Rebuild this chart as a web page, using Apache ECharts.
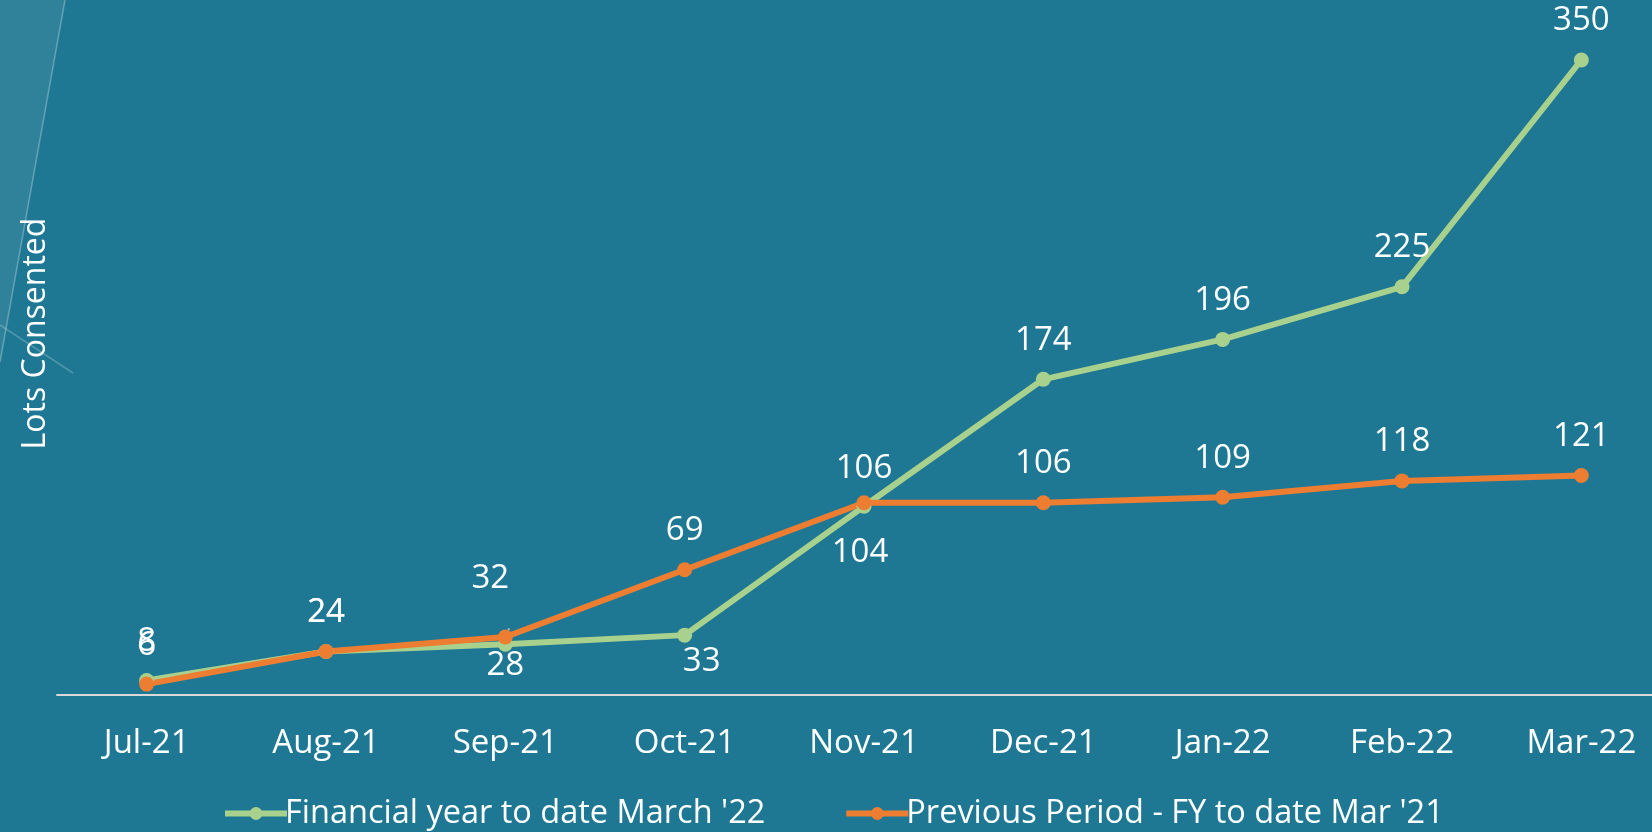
<!DOCTYPE html>
<html>
<head>
<meta charset="utf-8">
<script src="https://cdn.jsdelivr.net/npm/echarts@6/dist/echarts.min.js"></script>
<style>
  html, body { margin: 0; padding: 0; background: #1F7893; }
  #chart { width: 1652px; height: 832px; }
</style>
</head>
<body>
<div id="chart"></div>
<script>
// categories and values
var months = ["Jul-21", "Aug-21", "Sep-21", "Oct-21", "Nov-21", "Dec-21", "Jan-22", "Feb-22", "Mar-22"];
var fyCurrent = [8, 24, 28, 33, 104, 174, 196, 225, 350];
var fyPrevious = [6, 24, 32, 69, 106, 106, 109, 118, 121];
var seriesNames = ["Financial year to date March '22", "Previous Period - FY to date Mar '21"];

var font = "'Open Sans', sans-serif";
var guide = { show: true, lineStyle: { color: "#B4B4B4", width: 2 } };

// label placement tweaks per point (index -> label override)
var greenLabels = {
    2: { position: "bottom", distance: -3 },
    3: { position: "bottom", distance: 2, offset: [17, 0] },
    4: { position: "bottom", distance: 22, offset: [-4, 0] }
};
var orangeLabels = {
    2: { position: "top", distance: 34, offset: [-15, 0], guide: true },
    4: { position: "top", distance: 10 }
};

var buildData = function (values, tweaks) {
    return values.map(function (v, i) {
        var t = tweaks[i];
        if (!t) return v;
        var item = { value: v, label: { position: t.position, distance: t.distance } };
        if (t.offset) item.label.offset = t.offset;
        if (t.guide) item.labelLine = guide;
        return item;
    });
};

var mkSeries = function (name, color, values, tweaks) {
    return {
        name: name,
        type: "line",
        data: buildData(values, tweaks),
        symbol: "circle",
        symbolSize: 15,
        lineStyle: { color: color, width: 6 },
        itemStyle: { color: color },
        label: {
            show: true,
            position: "top",
            distance: 15,
            color: "#FFFFFF",
            fontFamily: font,
            fontSize: 33
        },
        labelLine: { show: false },
        emphasis: { disabled: true },
        animation: false
    };
};

var myChart = echarts.init(document.getElementById("chart"), null, { renderer: "canvas" });

myChart.setOption({
    backgroundColor: "#1F7893",
    graphic: [
        { type: "polygon", shape: { points: [[0, 0], [65, 0], [0, 362]] }, style: { fill: "rgba(255,255,255,0.08)" }, silent: true },
        { type: "line", shape: { x1: 65, y1: 0, x2: 0, y2: 362 }, style: { stroke: "rgba(255,255,255,0.28)", lineWidth: 1.5 }, silent: true },
        { type: "line", shape: { x1: 0, y1: 325, x2: 73, y2: 373 }, style: { stroke: "rgba(255,255,255,0.22)", lineWidth: 1.5 }, silent: true }
    ],
    legend: {
        left: 217,
        top: 792,
        itemWidth: 62,
        itemHeight: 16,
        itemGap: 78,
        itemStyle: { borderWidth: 0 },
        lineStyle: { width: 6 },
        textStyle: { color: "#FFFFFF", fontFamily: font, fontSize: 32.5, padding: [0, 0, 0, -7] },
        data: seriesNames
    },
    grid: { left: 57, top: 60, width: 1614, height: 635, outerBoundsMode: "none", containLabel: false },
    xAxis: {
        type: "category",
        data: months,
        axisLine: { lineStyle: { color: "#D9D9D9", width: 2 } },
        axisTick: { show: false },
        axisLabel: { color: "#FFFFFF", fontFamily: font, fontSize: 33, margin: 32 }
    },
    yAxis: {
        type: "value",
        min: 0,
        max: 350,
        name: "Lots Consented",
        nameLocation: "middle",
        nameRotate: 90,
        nameGap: 5,
        nameTextStyle: { color: "#FFFFFF", fontFamily: font, fontSize: 32, padding: [0, 0, 0, 88] },
        axisLine: { show: false },
        axisTick: { show: false },
        axisLabel: { show: false },
        splitLine: { show: false }
    },
    series: [
        mkSeries(seriesNames[0], "#A9D18E", fyCurrent, greenLabels),
        mkSeries(seriesNames[1], "#ED7D31", fyPrevious, orangeLabels)
    ]
});
</script>
</body>
</html>
